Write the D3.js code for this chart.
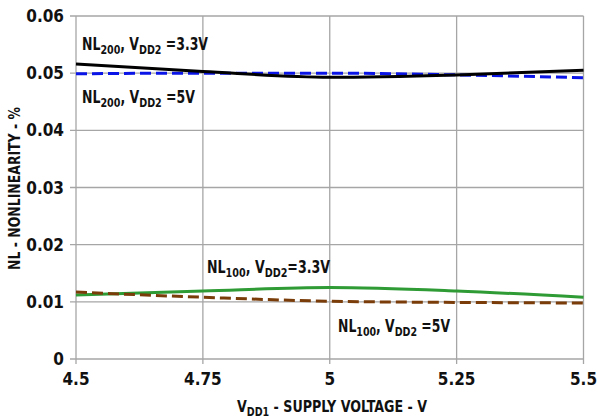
<!DOCTYPE html>
<html>
<head>
<meta charset="utf-8">
<script src="https://cdn.jsdelivr.net/npm/d3@7/dist/d3.min.js"></script>
<style>
body { margin:0; background:#fff; }
text { font-family: "Liberation Sans Narrow", "DejaVu Sans Condensed", sans-serif; font-weight:bold; fill:#111; }
</style>
</head>
<body>
<svg id="chart" width="598" height="420"></svg>
<script>
var volts = [4.5, 4.75, 5, 5.25, 5.5]
var nl200_33 = [0.0516, 0.0503, 0.0493, 0.0497, 0.0505]
var nl200_5 = [0.0499, 0.0500, 0.0500, 0.0497, 0.0492]
var nl100_33 = [0.0112, 0.0119, 0.0125, 0.0119, 0.0108]
var nl100_5 = [0.0117, 0.0108, 0.0101, 0.0099, 0.0098]
var xTicks = [4.5, 4.75, 5, 5.25, 5.5]
var yTicks = [0, 0.01, 0.02, 0.03, 0.04, 0.05, 0.06]

var svg = d3.select("#chart")
var x = d3.scaleLinear().domain([4.5, 5.5]).range([76, 583.5])
var y = d3.scaleLinear().domain([0, 0.06]).range([359, 16])

// grid
svg.append("g").selectAll("line").data(yTicks).enter().append("line")
    .attr("x1", 70).attr("x2", x(5.5))
    .attr("y1", function(d) {return y(d)}).attr("y2", function(d) {return y(d)})
    .attr("stroke", "#a6a6a6").attr("stroke-width", 1.3)
svg.append("g").selectAll("line").data(xTicks).enter().append("line")
    .attr("x1", function(d) {return x(d)}).attr("x2", function(d) {return x(d)})
    .attr("y1", y(0.06)).attr("y2", y(0) + 5)
    .attr("stroke", "#a6a6a6").attr("stroke-width", 1.3)

// tick labels
svg.append("g").selectAll("text").data(yTicks).enter().append("text")
    .attr("x", 64).attr("y", function(d) {return y(d) + 6})
    .attr("text-anchor", "end").style("font-size", "17px")
    .text(function(d) {return d === 0 ? "0" : d3.format(".2f")(d)})
svg.append("g").selectAll("text").data(xTicks).enter().append("text")
    .attr("x", function(d) {return x(d)}).attr("y", 385)
    .attr("text-anchor", "middle").style("font-size", "17px")
    .text(function(d) {return d})

var line = d3.line()
    .x(function(d) {return x(d[0])})
    .y(function(d) {return y(d[1])})
    .curve(d3.curveMonotoneX)

function series(vals, color, dash) {
    svg.append("path").datum(d3.zip(volts, vals))
        .attr("d", line).attr("fill", "none")
        .attr("stroke", color).attr("stroke-width", 3)
        .attr("stroke-dasharray", dash)
}
series(nl200_5, "#0a14e6", "11,5")
series(nl200_33, "#000", null)
series(nl100_33, "#2e9b35", null)
series(nl100_5, "#7a3d0a", "11,5")

// labels with subscripts, squeezed to the condensed width of the original
function label(xp, yp, sub1, v, w) {
    var t = svg.append("text").attr("x", xp).attr("y", yp).style("font-size", "17px")
        .attr("textLength", w).attr("lengthAdjust", "spacingAndGlyphs")
    t.append("tspan").text("NL")
    t.append("tspan").attr("dy", 4).style("font-size", "13px").text(sub1)
    t.append("tspan").attr("dy", -4).text(", V")
    t.append("tspan").attr("dy", 4).style("font-size", "13px").text("DD2")
    t.append("tspan").attr("dy", -4).text(v)
}
label(82, 50, "200", " =3.3V", 126)
label(82, 103, "200", " =5V", 113)
label(207, 273, "100", "=3.3V", 123)
label(338, 332, "100", " =5V", 112)

// axis titles
var xt = svg.append("text").attr("x", 237).attr("y", 412).style("font-size", "16px")
    .attr("textLength", 190).attr("lengthAdjust", "spacingAndGlyphs")
xt.append("tspan").text("V")
xt.append("tspan").attr("dy", 4).style("font-size", "12px").text("DD1")
xt.append("tspan").attr("dy", -4).text(" - SUPPLY VOLTAGE - V")

svg.append("text").attr("transform", "translate(20,270) rotate(-90)")
    .style("font-size", "16px")
    .attr("textLength", 163).attr("lengthAdjust", "spacingAndGlyphs")
    .text("NL - NONLINEARITY - %")
</script>
</body>
</html>
